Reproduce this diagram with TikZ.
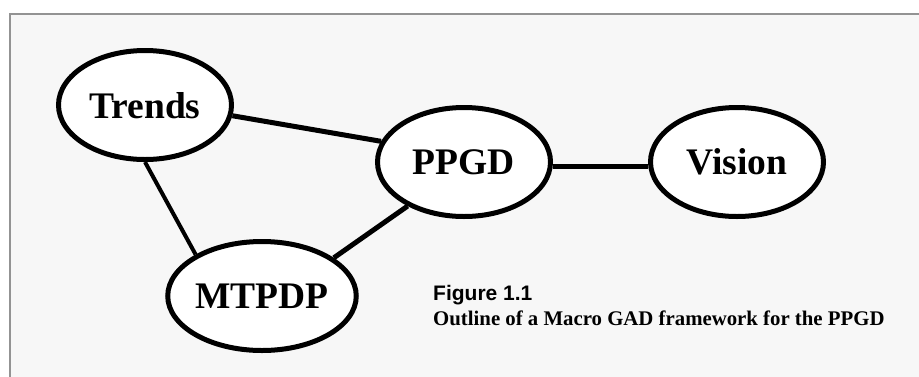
\documentclass[tikz,border=0pt]{standalone}
\usepackage{fontspec}
\setmainfont{Liberation Serif}
\newfontfamily\figsans{Liberation Sans}
\usetikzlibrary{shapes.geometric}

\begin{document}
\begin{tikzpicture}[x=1pt,y=-1pt,
    topic/.style={ellipse, draw=black, line width=5pt, fill=white,
      minimum width=173pt, minimum height=109pt, inner sep=0pt,
      font=\fontsize{37.5}{40}\selectfont\bfseries},
    link/.style={draw=black, line width=5pt},
    thinlink/.style={draw=black, line width=4pt}]
  \useasboundingbox (0,0) rectangle (919,376);

  % Frame
  \draw[gray!85, line width=1.5pt, fill=gray!6] (10,14) rectangle (930,390);

  % Ellipses
  \node[topic, text depth=0pt] (trends) at (145,105) {Trends};
  \node[topic] (ppgd) at (464,162) {PPGD};
  \node[topic] (vision) at (737,162) {Vision};
  \node[topic] (mtpdp) at (262,296) {MTPDP};

  % Links
  \draw[link] (trends.-7) -- (ppgd.166);
  \draw[thinlink] (trends.-90) -- (mtpdp.148);
  \draw[link] (ppgd.218) -- (mtpdp.28);
  \draw[line width=4.5pt] (ppgd.-3) -- (vision.183);

  % Caption
  \node[anchor=base west, inner sep=0pt, font=\figsans\fontsize{21}{24}\selectfont\bfseries]
    (fignum) at (433,300) {Figure 1.1};
  \node[anchor=base west, inner sep=0pt, font=\fontsize{20.8}{24}\selectfont\bfseries]
    (figtitle) at (433,325) {Outline of a Macro GAD framework for the PPGD};
\end{tikzpicture}
\end{document}
